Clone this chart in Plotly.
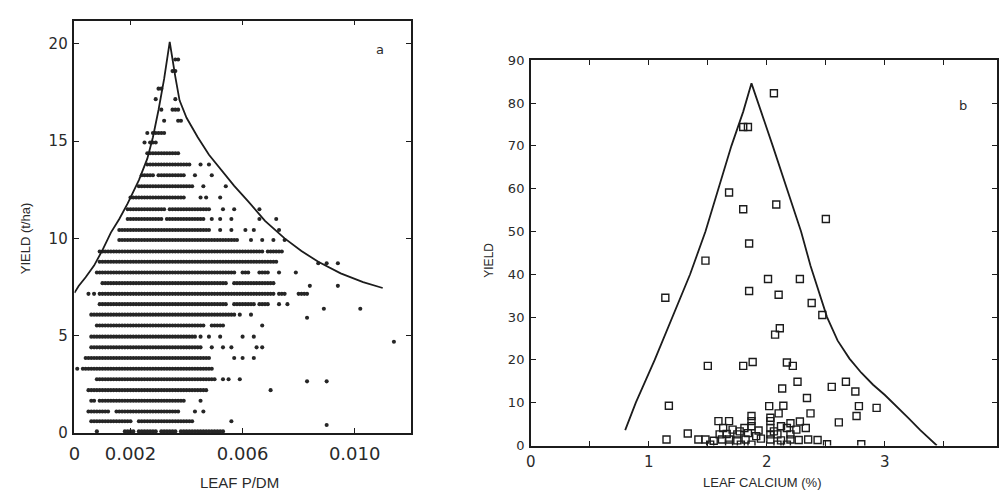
import plotly.graph_objects as go

# ---------------- Panel a : yield (t/ha) vs leaf P/DM ----------------
# Each row of dots: yield value and occupied grid columns (1 column = 0.0001 leaf P/DM)
A_ROW_YIELD = [0.08, 0.41, 0.6, 1.1, 1.65, 2.2, 2.65, 2.76, 3.3, 3.85, 4.4, 4.69, 4.95,
               5.52, 5.92, 6.08, 6.38, 6.62, 7.15, 7.56, 7.7, 8.25, 8.72, 8.8, 9.33, 9.92,
               10.43, 11.0, 11.5, 12.1, 12.68, 13.25, 13.8, 14.38, 14.93, 15.42, 16.05,
               16.62, 17.16, 17.7, 18.6, 19.2]
A_ROW_COLS = [
    "8 18-21 23-29 31-36 38-53",
    "90",
    "6-20 23-42 56",
    "5-12 15-37 43 46",
    "6-7 9-39 45",
    "5-47 70",
    "83 90",
    "8-50 53 55 59",
    "1 3-49",
    "4-48 57 60 64",
    "6-45 49 53 56 65 67",
    "114",
    "6-43 45 48 52 60 64",
    "8-46 49-53 67",
    "83",
    "6-57 59 63",
    "89 102",
    "9-54 57-64 66-69 73 76",
    "5 7 9-71 73-75 80-83",
    "84 94",
    "10-54 57-71",
    "8-57 60-62 66-69 73 79",
    "87 90 94",
    "9-72",
    "9-67 69-74",
    "16-58 63 67 71 75",
    "16-48 52 56 61 64 73",
    "19-31 33-46 49 52 56 66 72",
    "19-32 34-48 53 57 66",
    "20-39 45 47 52",
    "23-42 46 54",
    "24-28 30-39 43 49",
    "26-41 45 48",
    "26-37",
    "25 27-29",
    "26 28-32",
    "32 37-38",
    "31 35-37",
    "29 36",
    "30-31",
    "35-36",
    "36-37",
]
A_COL_WIDTH = 0.0001

# boundary line (panel a)
A_LINE_X = [0.0, 0.00015, 0.0004, 0.0007, 0.0010, 0.0013, 0.0016, 0.0019, 0.0023, 0.0026,
            0.0028, 0.0030, 0.0032, 0.0034,
            0.0036, 0.00375, 0.0040, 0.0044, 0.0048, 0.0052, 0.0057, 0.0062, 0.0068,
            0.0075, 0.0081, 0.0087, 0.0095, 0.0103, 0.0110]
A_LINE_Y = [7.2, 7.55, 8.0, 8.6, 9.4, 10.3, 11.0, 11.8, 13.0, 14.1,
            15.2, 16.6, 18.2, 20.1,
            18.3, 17.1, 16.2, 15.2, 14.3, 13.6, 12.7, 11.9, 10.9,
            10.0, 9.35, 8.8, 8.2, 7.75, 7.45]

A_XTICKS = [0, 0.002, 0.006, 0.010]
A_XTICKTEXT = ["0", "0.002", "0.006", "0.010"]
A_YTICKS = [0, 5, 10, 15, 20]

# ---------------- Panel b : yield vs leaf calcium ----------------
B_X = [2.06, 1.80, 1.84, 1.68, 1.80, 2.08, 2.50, 1.85, 1.48, 1.14, 2.01, 2.28, 1.85, 2.10,
       2.38, 2.47, 2.11, 2.07, 1.50, 1.80, 1.88, 2.17, 2.22, 2.26, 2.13, 2.55, 2.67, 2.75,
       2.34, 1.17, 2.02, 2.14, 2.78, 2.93, 2.76, 2.37, 2.10, 1.87, 2.61, 1.15, 1.33, 2.80,
       2.51, 2.43, 2.35, 2.27,
       1.59, 1.68, 1.87, 2.03, 2.20, 2.28, 1.63, 1.71, 1.81, 1.87, 2.03, 2.12, 2.17, 2.33,
       2.25, 1.60, 1.66, 1.75, 1.84, 1.91, 2.03, 2.09, 2.20, 1.42, 1.48, 1.55, 1.62, 1.68,
       1.75, 1.82, 1.95, 2.03, 2.12, 2.20, 1.52, 1.68, 1.78, 1.87, 2.09, 2.17, 2.03, 1.77,
       1.93, 2.06]
B_Y = [82.3, 74.4, 74.4, 59.1, 55.2, 56.3, 52.9, 47.2, 43.2, 34.5, 38.9, 38.9, 36.1, 35.2,
       33.3, 30.5, 27.4, 25.9, 18.6, 18.6, 19.5, 19.4, 18.6, 14.9, 13.3, 13.7, 14.9, 12.6,
       11.1, 9.3, 9.2, 9.3, 9.2, 8.8, 6.9, 7.5, 7.5, 6.9, 5.4, 1.4, 2.8, 0.3,
       0.3, 1.3, 1.4, 1.3,
       5.7, 5.7, 5.7, 5.7, 5.2, 5.6, 4.1, 3.7, 4.1, 4.5, 4.1, 4.5, 4.1, 4.1,
       3.7, 2.6, 2.7, 2.6, 2.9, 2.2, 2.6, 2.6, 2.6, 1.4, 1.4, 1.1, 1.4, 1.4,
       1.2, 1.4, 1.6, 1.4, 1.2, 1.4, 0.2, 0.2, 0.2, 0.2, 0.2, 0.2, 6.5, 3.3,
       3.5, 3.3]

B_LINE_X = [0.80, 0.89, 1.05, 1.20, 1.35, 1.48, 1.59, 1.70, 1.80, 1.87,
            2.05, 2.17, 2.29, 2.37, 2.44, 2.51, 2.60, 2.70, 2.80, 2.90, 3.00, 3.10,
            3.20, 3.30, 3.44]
B_LINE_Y = [3.6, 10, 20, 30, 40, 50, 60, 70, 78, 84.6,
            70, 60, 50, 42, 36, 30, 24.5, 20.3, 17.0, 14.2, 11.8, 9.2,
            6.4, 3.6, 0]

B_XTICKS = [0, 0.5, 1, 1.5, 2, 2.5, 3, 3.5]
B_XTICKTEXT = ["0", "", "1", "", "2", "", "3", ""]
B_YTICKS = [0, 10, 20, 30, 40, 50, 60, 70, 80, 90]

# ---------------- decode rows into points ----------------
ax, ay = [], []
for yv, spec in zip(A_ROW_YIELD, A_ROW_COLS):
    for tok in spec.split():
        if "-" in tok:
            c0, c1 = (int(t) for t in tok.split("-"))
            cols = range(c0, c1 + 1)
        else:
            cols = [int(tok)]
        for c in cols:
            ax.append(c * A_COL_WIDTH)
            ay.append(yv)

INK = "#1c1c1c"
W, H = 999, 500

fig = go.Figure()
fig.add_trace(go.Scatter(x=ax, y=ay, mode="markers", xaxis="x", yaxis="y",
                         marker=dict(symbol="circle", size=4.1, color="#262626"),
                         showlegend=False, hoverinfo="skip"))
fig.add_trace(go.Scatter(x=A_LINE_X, y=A_LINE_Y, mode="lines", xaxis="x", yaxis="y",
                         line=dict(color=INK, width=1.8),
                         showlegend=False, hoverinfo="skip"))
fig.add_trace(go.Scatter(x=B_X, y=B_Y, mode="markers", xaxis="x2", yaxis="y2",
                         marker=dict(symbol="square-open", size=7, color=INK,
                                     line=dict(width=1.4, color=INK)),
                         showlegend=False, hoverinfo="skip"))
fig.add_trace(go.Scatter(x=B_LINE_X, y=B_LINE_Y, mode="lines", xaxis="x2", yaxis="y2",
                         line=dict(color=INK, width=1.8),
                         showlegend=False, hoverinfo="skip"))

axis_common = dict(showline=True, linecolor=INK, linewidth=1.5, mirror="ticks",
                   ticks="inside", ticklen=5, tickwidth=1.3, tickcolor=INK,
                   showgrid=False, zeroline=False)

fig.update_layout(
    width=W, height=H,
    margin=dict(l=0, r=0, t=0, b=0),
    paper_bgcolor="white", plot_bgcolor="white",
    font=dict(family="DejaVu Sans", color="#2a2a2a"),
    xaxis=dict(domain=[69 / W, 408 / W], range=[0, 0.012], tickvals=A_XTICKS,
               ticktext=A_XTICKTEXT, tickfont=dict(size=18, family="DejaVu Sans"),
               ticklabelstandoff=4, anchor="y", **axis_common),
    yaxis=dict(domain=[1 - 440 / H, 1 - 14 / H], range=[0, 21.2], tickvals=A_YTICKS,
               tickfont=dict(size=15, family="DejaVu Sans"), ticklabelstandoff=2,
               anchor="x", **axis_common),
    xaxis2=dict(domain=[529 / W, 1.0], range=[0, 3.95], tickvals=B_XTICKS,
                ticktext=B_XTICKTEXT, tickfont=dict(size=15, family="DejaVu Sans"),
                ticklabelstandoff=2, anchor="y2", **axis_common),
    yaxis2=dict(domain=[1 - 453 / H, 1 - 55 / H], range=[0, 90], tickvals=B_YTICKS,
                tickfont=dict(size=13, family="DejaVu Sans"), ticklabelstandoff=2,
                anchor="x2", **axis_common),
)

def note(text, px, py, size, angle=0, family="Liberation Sans"):
    fig.add_annotation(text=text, x=px / W, y=1 - py / H, xref="paper", yref="paper",
                       showarrow=False, textangle=angle, xanchor="center", yanchor="middle",
                       font=dict(size=size, family=family, color="#2a2a2a"))

note("YIELD (t/ha)", 20, 239, 13, -90)
note("LEAF P/DM", 235, 491, 15)
note("YIELD", 487, 262, 12, -90)
note("LEAF CALCIUM (%)", 762, 491, 13)
note("a", 377, 44, 13, family="DejaVu Sans")
note("b", 965, 102, 13, family="DejaVu Sans")

# remove the browser's default page margin so the figure sits at the window origin
fig.write_html("out.html", config={"displayModeBar": False},
               post_script="document.body.style.margin='0';document.body.style.overflow='hidden';")
